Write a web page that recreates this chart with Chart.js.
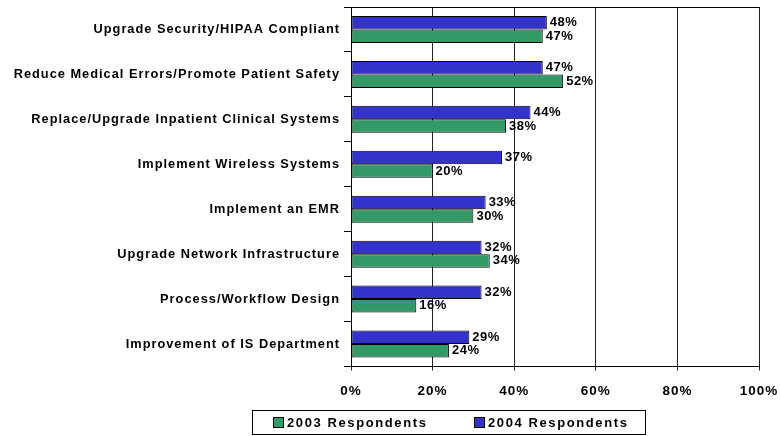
<!DOCTYPE html>
<html>
<head>
<meta charset="utf-8">
<script src="https://cdn.jsdelivr.net/npm/chart.js@4/dist/chart.umd.min.js"></script>
<style>
  html, body { margin: 0; padding: 0; background: #fff; }
  #wrap { width: 781px; height: 436px; position: relative; }
</style>
</head>
<body>
<div id="wrap"><canvas id="chart"></canvas></div>
<script>
const categories = [
  'Upgrade Security/HIPAA Compliant',
  'Reduce Medical Errors/Promote Patient Safety',
  'Replace/Upgrade Inpatient Clinical Systems',
  'Implement Wireless Systems',
  'Implement an EMR',
  'Upgrade Network Infrastructure',
  'Process/Workflow Design',
  'Improvement of IS Department'
];
const values2004 = [48, 47, 44, 37, 33, 32, 32, 29];
const values2003 = [47, 52, 38, 20, 30, 34, 16, 24];
const xTicks = [0, 20, 40, 60, 80, 100];

const FONT = 'Arial, "Liberation Sans", sans-serif';
const BLUE = '#3333CC';
const GREEN = '#339966';

// letter spacing + top border line
const spacing = {
  id: 'spacing',
  beforeDraw(chart) {
    chart.ctx.letterSpacing = '1px';
  },
  afterDraw(chart) {
    const { ctx, chartArea } = chart;
    ctx.save();
    ctx.strokeStyle = '#000';
    ctx.lineWidth = 1;
    ctx.beginPath();
    ctx.moveTo(chartArea.left, Math.round(chartArea.top) + 0.5);
    ctx.lineTo(chartArea.right, Math.round(chartArea.top) + 0.5);
    ctx.stroke();
    ctx.restore();
  }
};

// value labels at bar ends
const valueLabels = {
  id: 'valueLabels',
  afterDatasetsDraw(chart) {
    const ctx = chart.ctx;
    ctx.save();
    ctx.font = 'bold 13px ' + FONT;
    ctx.letterSpacing = '0.5px';
    ctx.fillStyle = '#000';
    ctx.textAlign = 'left';
    ctx.textBaseline = 'middle';
    chart.data.datasets.forEach((ds, i) => {
      chart.getDatasetMeta(i).data.forEach((bar, j) => {
        ctx.fillText(ds.data[j] + '%', bar.x + 3, bar.y);
      });
    });
    ctx.restore();
  }
};

// boxed legend under the chart
const boxLegend = {
  id: 'boxLegend',
  afterDraw(chart) {
    const ctx = chart.ctx;
    ctx.save();
    ctx.strokeStyle = '#000';
    ctx.lineWidth = 1;
    ctx.strokeRect(252.5, 410.5, 393, 24);
    const items = [
      { ds: chart.data.datasets[1], x: 273 },
      { ds: chart.data.datasets[0], x: 474 }
    ];
    ctx.font = 'bold 13px ' + FONT;
    ctx.letterSpacing = '1.6px';
    ctx.textBaseline = 'middle';
    ctx.textAlign = 'left';
    items.forEach(it => {
      ctx.fillStyle = it.ds.backgroundColor;
      ctx.fillRect(it.x, 417.5, 10, 10);
      ctx.strokeStyle = '#000';
      ctx.strokeRect(it.x + 0.5, 417.5, 10, 10);
      ctx.fillStyle = '#000';
      ctx.fillText(it.ds.label, it.x + 14, 423);
    });
    ctx.restore();
  }
};

new Chart(document.getElementById('chart'), {
  type: 'bar',
  data: {
    labels: categories,
    datasets: [
      {
        label: '2004 Respondents',
        data: values2004,
        backgroundColor: BLUE,
        borderColor: '#000',
        borderWidth: 1,
        borderSkipped: false,
        barPercentage: 1,
        categoryPercentage: 0.6
      },
      {
        label: '2003 Respondents',
        data: values2003,
        backgroundColor: GREEN,
        borderColor: '#000',
        borderWidth: 1,
        borderSkipped: false,
        barPercentage: 1,
        categoryPercentage: 0.6
      }
    ]
  },
  options: {
    indexAxis: 'y',
    responsive: true,
    maintainAspectRatio: false,
    animation: false,
    layout: { padding: { top: 7, right: 22, left: 0, bottom: 35.5 } },
    plugins: {
      legend: { display: false },
      tooltip: { enabled: false }
    },
    scales: {
      x: {
        min: 0,
        max: 100,
        afterFit(scale) {
          scale.height = 34;
          scale.paddingLeft = 0;
          scale.paddingRight = 0;
        },
        afterBuildTicks(scale) { scale.ticks = xTicks.map(v => ({ value: v })); },
        grid: { color: '#222', tickLength: 4, drawTicks: true },
        border: { color: '#000' },
        ticks: {
          padding: 13,
          color: '#000',
          font: { family: FONT, size: 13.5, weight: 'bold' },
          callback: v => v + '%'
        }
      },
      y: {
        afterFit(scale) {
          scale.width = 351;
          scale.paddingTop = 0;
          scale.paddingBottom = 0;
        },
        grid: { drawOnChartArea: false, color: '#000', tickLength: 7, offset: true },
        border: { color: '#000' },
        ticks: {
          padding: 4,
          color: '#000',
          font: { family: FONT, size: 12.8, weight: 'bold' }
        }
      }
    }
  },
  plugins: [spacing, valueLabels, boxLegend]
});
</script>
</body>
</html>
